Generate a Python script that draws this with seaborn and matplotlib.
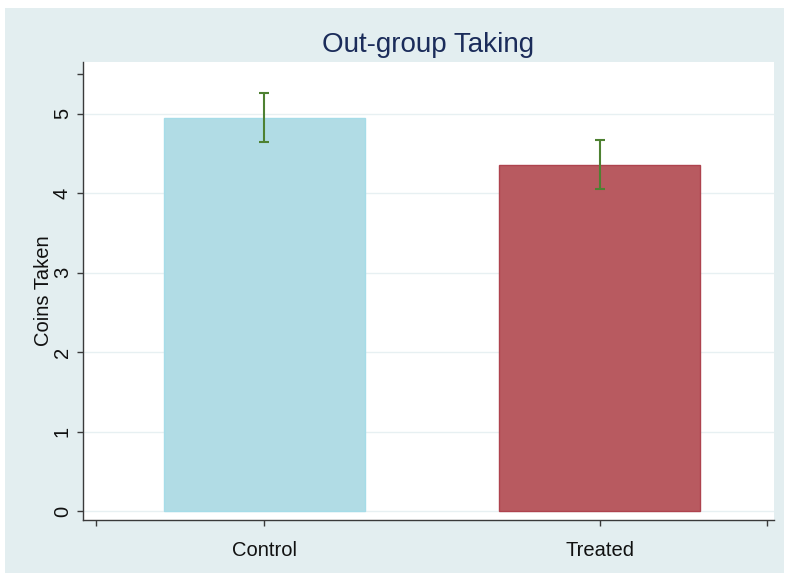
import matplotlib
matplotlib.use("Agg")
import matplotlib.pyplot as plt
from matplotlib.patches import Rectangle
import seaborn as sns
import pandas as pd

# Mean coins taken from the out-group, with 95% confidence bounds
groups = ["Control", "Treated"]
mean_coins = [4.95, 4.36]
ci_low = [4.64, 4.05]
ci_high = [5.26, 4.67]
y_ticks = [0, 1, 2, 3, 4, 5]

bar_fill = {"Control": "#B1DCE5", "Treated": "#B85A60"}
bar_edge = {"Control": "#A6DCE8", "Treated": "#AE434E"}

sns.set_theme(style="white")
plt.rcParams["font.family"] = ["Liberation Sans", "DejaVu Sans"]

W, H = 789, 581
fig = plt.figure(figsize=(W / 100, H / 100), dpi=100)
fig.patch.set_facecolor("white")
# graph region background
fig.patches.append(Rectangle((5 / W, (H - 573) / H), 779 / W, 565 / H,
                             transform=fig.transFigure, facecolor="#E3EEF0",
                             edgecolor="none", zorder=-10))

ax = fig.add_axes([83 / W, (H - 520) / H, (774 - 83) / W, (520 - 62) / H])
ax.set_facecolor("white")

df = pd.DataFrame({"group": groups, "coins": mean_coins})
sns.barplot(data=df, x="group", y="coins", hue="group", palette=bar_fill,
            width=0.6, saturation=1, errorbar=None, legend=False, ax=ax,
            zorder=2)
for patch, g in zip(ax.patches, groups):
    patch.set_edgecolor(bar_edge[g])
    patch.set_linewidth(1.0)

yerr = [[m - lo for m, lo in zip(mean_coins, ci_low)],
        [hi - m for m, hi in zip(mean_coins, ci_high)]]
ax.errorbar(range(len(groups)), mean_coins, yerr=yerr, fmt="none",
            ecolor="#4E8132", elinewidth=1.5, capsize=3.8, capthick=1.5,
            zorder=3)

for t in y_ticks:
    ax.axhline(t, color="#E7F0F2", lw=1.0, zorder=1)

ax.set_xlim(-0.54, 1.52)
ax.set_ylim(-0.113, 5.65)

ax.set_xticks([-0.5, 0, 1, 1.5])
ax.set_xticklabels(["", "Control", "Treated", ""])
ax.set_yticks(y_ticks + [5.5])
ax.set_yticklabels([str(t) for t in y_ticks] + [""], rotation=90, va="center")

ax.tick_params(axis="both", which="major", length=4, width=1,
               color="#3A3A3A", labelsize=14.5, labelcolor="#111111")
ax.tick_params(axis="x", pad=11, bottom=True)
ax.tick_params(axis="y", pad=4, left=True)

for side in ["top", "right"]:
    ax.spines[side].set_visible(False)
for side in ["left", "bottom"]:
    ax.spines[side].set_color("#3A3A3A")
    ax.spines[side].set_linewidth(1.0)

ax.set_xlabel("")
ax.set_ylabel("Coins Taken", fontsize=14.5, color="#111111", labelpad=0)

fig.text(428 / W, 1 - 45 / H, "Out-group Taking", ha="center", va="center",
         fontsize=20, color="#1B2C5A")

fig.savefig("out.png", dpi=100, facecolor=fig.get_facecolor())
